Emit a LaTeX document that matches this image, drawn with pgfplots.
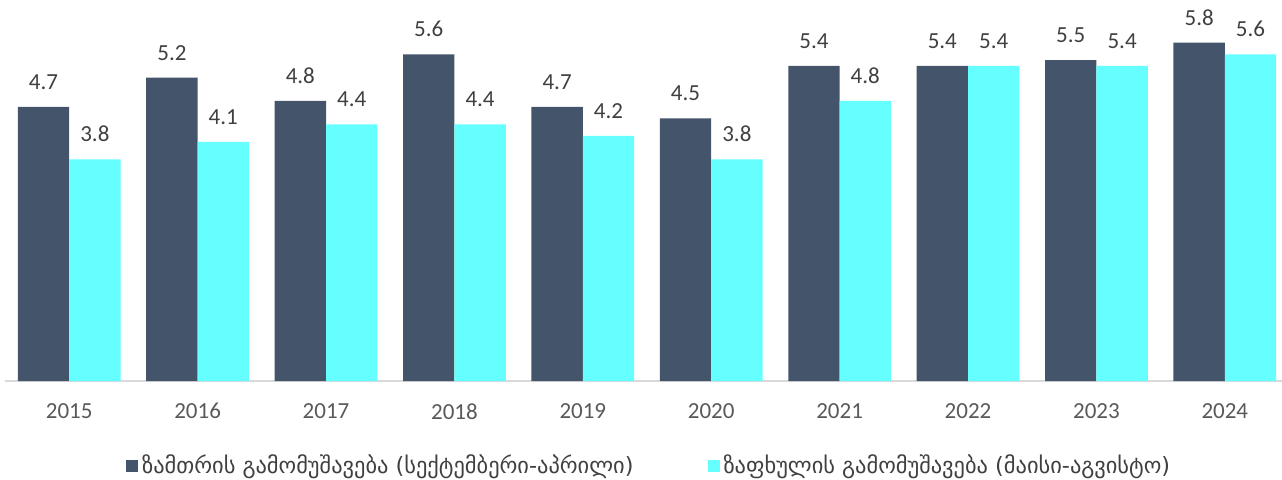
\documentclass[border=0pt]{standalone}
\usepackage{fontspec}
\setmainfont{Carlito}
\newfontfamily\geo{DejaVu Sans}
\usepackage{pgfplots}
\pgfplotsset{compat=1.18}

\definecolor{winter}{HTML}{44546A}
\definecolor{summer}{HTML}{66FFFF}
\definecolor{lbl}{HTML}{404040}
\definecolor{tick}{HTML}{595959}
\definecolor{axisln}{HTML}{D9D9D9}

\begin{document}
\begin{tikzpicture}
\begin{axis}[
  at={(2.5pt,49pt)}, anchor=south west,
  scale only axis,
  width=638.8pt, height=190.5pt,
  ybar=0pt, bar width=0.4,
  xmin=-0.5, xmax=9.45,
  ymin=0, ymax=6.53,
  axis x line*=bottom, axis y line=none,
  x axis line style={axisln, line width=0.8pt},
  xtick=data,
  xticklabels={2015,2016,2017,2018,2019,2020,2021,2022,2023,2024},
  major tick length=0pt,
  xticklabel style={font=\fontsize{11.5}{12}\selectfont, text=tick, inner sep=0pt, anchor=north, yshift=-11pt},
  /pgf/number format/assume math mode=true,
  nodes near coords,
  nodes near coords style={font=\fontsize{11.5}{12}\selectfont, text=lbl, inner sep=0pt, anchor=south, yshift=8.5pt,
    /pgf/number format/.cd, fixed, fixed zerofill, precision=1, assume math mode=true},
  legend columns=2,
  legend style={draw=none, at={(0.505,-0.223)}, anchor=center, font=\geo\fontsize{11.2}{13}\selectfont, text=lbl,
    /tikz/every even column/.append style={column sep=35pt}},
  legend image code/.code={\fill[#1] (0pt,-3pt) rectangle (6pt,3pt);},
]
\addplot[fill=winter, draw=none] coordinates {
(0,4.7) (1,5.2) (2,4.8) (3,5.6) (4,4.7) (5,4.5) (6,5.4) (7,5.4) (8,5.5) (9,5.8)};
\addplot[fill=summer, draw=none] coordinates {
(0,3.8) (1,4.1) (2,4.4) (3,4.4) (4,4.2) (5,3.8) (6,4.8) (7,5.4) (8,5.4) (9,5.6)};
\legend{ზამთრის გამომუშავება (სექტემბერი-აპრილი), ზაფხულის გამომუშავება (მაისი-აგვისტო)}
\end{axis}
\pgfresetboundingbox
\path (0,0) rectangle (641pt,239.5pt);
\end{tikzpicture}
\end{document}
